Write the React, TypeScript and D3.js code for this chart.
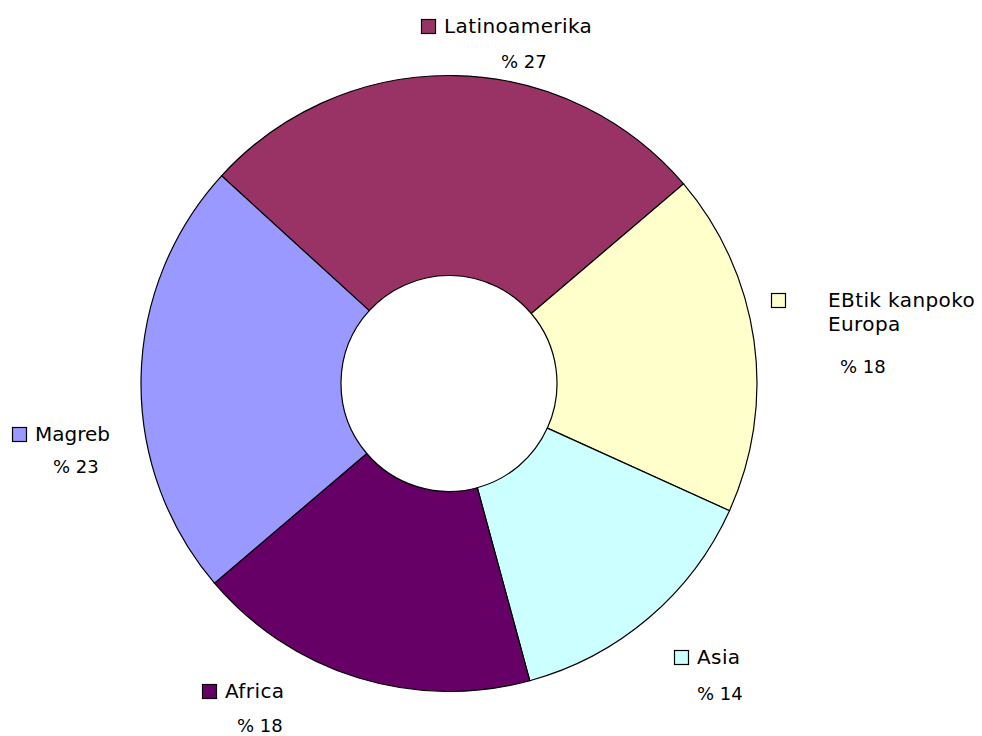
import * as d3 from 'd3';
import React, { useEffect, useRef } from 'react';

// Slice data, clockwise from the top-left boundary
const regions = ['Latinoamerika', 'EBtik kanpoko Europa', 'Asia', 'Africa', 'Magreb'];
const labelLines = [['Latinoamerika'], ['EBtik kanpoko', 'Europa'], ['Asia'], ['Africa'], ['Magreb']];
const shares = [27, 18, 14, 18, 23];
const colors = ['#993366', '#FFFFCC', '#CCFFFF', '#660066', '#9999FF'];

function App() {
    const ref = useRef<SVGSVGElement>(null);

    const width = 982;
    const height = 736;
    const cx = 449;
    const cy = 383.5;
    const outerR = 308;
    const innerR = 108;
    const font = '"DejaVu Sans", Verdana, sans-serif';

    // label layout (legend square top-left, value text position), per slice
    const labelPos = [
        { x: 421, y: 19, vx: 501, vy: 68 },
        { x: 771, y: 293, vx: 840, vy: 373 },
        { x: 674, y: 650, vx: 697, vy: 700 },
        { x: 202, y: 684, vx: 237, vy: 732 },
        { x: 12, y: 427, vx: 53, vy: 473 },
    ];

    useEffect(() => {
        const svg = d3.select(ref.current);
        svg.selectAll('*').remove();

        const start = -47.6 * Math.PI / 180;
        const pie = d3.pie<number>()
            .sort(null)
            .value((d) => d)
            .startAngle(start)
            .endAngle(start + 2 * Math.PI);

        const arc = d3.arc<d3.PieArcDatum<number>>()
            .innerRadius(innerR)
            .outerRadius(outerR);

        const g = svg.append('g').attr('transform', `translate(${cx},${cy})`);

        g.selectAll('path')
            .data(pie(shares))
            .enter()
            .append('path')
            .attr('d', arc)
            .attr('fill', (d, i) => colors[i])
            .attr('stroke', '#000')
            .attr('stroke-width', 1.2);

        // labels
        regions.forEach((name, i) => {
            const p = labelPos[i];
            const lg = svg.append('g');
            lg.append('rect')
                .attr('x', p.x + 0.5)
                .attr('y', p.y + 0.5)
                .attr('width', 14)
                .attr('height', 14)
                .attr('fill', colors[i])
                .attr('stroke', '#000')
                .attr('stroke-width', 1.2);
            const textX = name.startsWith('EBtik') ? p.x + 57 : p.x + 23;
            labelLines[i].forEach((line, j) => {
                lg.append('text')
                    .attr('x', textX)
                    .attr('y', p.y + 14 + j * 24)
                    .attr('font-family', font)
                    .attr('font-size', 20)
                    .attr('letter-spacing', name === 'Magreb' ? 0 : 0.4)
                    .attr('fill', '#000')
                    .text(line);
            });
            lg.append('text')
                .attr('x', p.vx)
                .attr('y', p.vy)
                .attr('font-family', font)
                .attr('font-size', 18)
                .attr('fill', '#000')
                .text(`% ${shares[i]}`);
        });
    }, []);

    return (
        <svg
            ref={ref}
            width={width}
            height={height}
            style={{ position: 'absolute', left: 0, top: 0, background: '#fff' }}
        />
    );
}

export default App;
